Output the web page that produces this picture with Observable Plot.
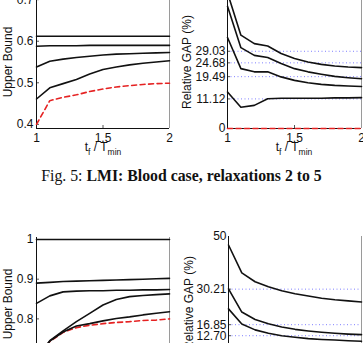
<!DOCTYPE html>
<html><head><meta charset="utf-8">
<script src="https://cdn.jsdelivr.net/npm/d3@7"></script>
<script src="https://cdn.jsdelivr.net/npm/@observablehq/plot@0.6"></script>
<style>
html,body{margin:0;padding:0;background:#fff;}
#root{position:relative;width:363px;height:343px;overflow:hidden;background:#fff;font-family:"Liberation Sans",Arial,sans-serif;}
.panel{position:absolute;}
.panel svg{background:transparent;}
.xlab{position:absolute;width:140px;text-align:center;font-size:12px;line-height:12px;color:#111;white-space:nowrap;}
.xlab sub{font-size:8.5px;vertical-align:-4px;line-height:0;}
.cap{position:absolute;left:0;width:363px;top:168px;text-align:center;font-family:"Liberation Serif","Times New Roman",serif;font-size:15.8px;line-height:16px;color:#111;white-space:nowrap;}
</style></head><body><div id="root"></div>
<script>
// ---- data ----
const tRatio = [1, 1.1, 1.2, 1.3, 1.4, 1.5, 1.6, 1.7, 1.8, 1.9, 2];
const xTicks = [1, 1.5, 2];
const xTickLabels = ["1", "1.5", "2"];

// Fig.5 left: Upper Bound (relaxations 2..5 + red reference)
const ubA_r5 = [0.612, 0.612, 0.612, 0.612, 0.612, 0.612, 0.612, 0.612, 0.612, 0.612, 0.612];
const ubA_r4 = [0.588, 0.589, 0.589, 0.589, 0.590, 0.590, 0.590, 0.590, 0.590, 0.590, 0.590];
const ubA_r3 = [0.538, 0.552, 0.557, 0.561, 0.564, 0.567, 0.569, 0.570, 0.571, 0.572, 0.573];
const ubA_r2 = [0.461, 0.488, 0.498, 0.508, 0.521, 0.532, 0.538, 0.543, 0.547, 0.550, 0.553];
const ubA_ref = [0.400, 0.457, 0.465, 0.471, 0.479, 0.485, 0.490, 0.493, 0.496, 0.498, 0.499];
const ubA_ticks = [0.4, 0.5, 0.6, 0.7];
const ubA_tickLabels = ["0.4", "0.5", "0.6", "0.7"];

// Fig.5 right: Relative GAP (%)
const gapA_r2 = [51.0, 35.1, 31.9, 31.0, 28.2, 26.3, 25.0, 24.1, 23.5, 23.1, 22.9];
const gapA_r3 = [46.0, 30.4, 27.5, 26.7, 24.4, 22.5, 21.3, 20.4, 19.6, 19.1, 18.7];
const gapA_r4 = [34.2, 22.5, 21.3, 21.3, 19.4, 18.1, 17.2, 16.6, 16.2, 16.0, 15.8];
const gapA_r5 = [13.7, 8.0, 8.7, 11.2, 11.4, 11.4, 11.4, 11.4, 11.5, 11.5, 11.6];
const gapA_ref = [0, 0, 0, 0, 0, 0, 0, 0, 0, 0, 0];
const gapA_ticks = [0, 11.12, 19.49, 24.68, 29.03];
const gapA_tickLabels = ["0", "11.12", "19.49", "24.68", "29.03"];
const gapA_grid = [11.12, 19.49, 24.68, 29.03];

// Fig.6 left: Upper Bound
const ubB_r5 = [1, 1, 1, 1, 1, 1, 1, 1, 1, 1, 1];
const ubB_r4 = [0.890, 0.892, 0.894, 0.895, 0.896, 0.897, 0.898, 0.899, 0.900, 0.901, 0.902];
const ubB_r3 = [0.839, 0.858, 0.868, 0.870, 0.871, 0.871, 0.872, 0.872, 0.873, 0.873, 0.874];
const ubB_r2 = [0.700, 0.745, 0.770, 0.793, 0.814, 0.835, 0.849, 0.856, 0.859, 0.861, 0.863];
const ubB_r1 = [0.700, 0.744, 0.767, 0.782, 0.788, 0.795, 0.801, 0.805, 0.810, 0.814, 0.818];
const ubB_ref = [0.700, 0.743, 0.766, 0.778, 0.784, 0.788, 0.791, 0.793, 0.796, 0.797, 0.800];
const ubB_ticks = [0.8, 0.9, 1];
const ubB_tickLabels = ["0.8", "0.9", "1"];

// Fig.6 right: Relative GAP (%)
const gapB_r2 = [46.8, 36.3, 33.0, 31.1, 29.6, 28.5, 27.6, 26.8, 26.2, 25.8, 25.4];
const gapB_r3 = [30.3, 21.6, 18.8, 17.2, 16.0, 15.1, 14.5, 14.0, 13.6, 13.3, 13.1];
const gapB_r4 = [22.8, 17.1, 14.9, 13.6, 12.7, 12.1, 11.6, 11.3, 11.1, 10.8, 10.6];
const gapB_ticks = [12.70, 16.85, 30.21, 50];
const gapB_tickLabels = ["12.70", "16.85", "30.21", "50"];
const gapB_grid = [12.70, 16.85, 30.21];

const captionLead = "Fig. 5: ";
const captionBold = "LMI: Blood case, relaxations 2 to 5";
const labelUB = "Upper Bound";
const labelGap = "Relative GAP (%)";

// ---- drawing ----
const root = document.getElementById("root");
const INK = "#111";

function panel(o) {
  const marginTop = 10, marginBottom = 24;
  const frameW = o.width - o.marginLeft - o.marginRight;
  const rows = [];
  o.series.forEach((vals, i) => vals.forEach((v, j) => rows.push({x: tRatio[j], y: v, s: i})));
  const redRows = o.red ? o.red.map((v, j) => ({x: tRatio[j], y: v})) : [];
  const svg = Plot.plot({
    width: o.width,
    height: marginTop + o.frameH + marginBottom,
    marginLeft: o.marginLeft, marginRight: o.marginRight, marginTop, marginBottom,
    style: {fontFamily: "'Liberation Sans', Arial, sans-serif", fontSize: "12px", color: INK, background: "transparent", overflow: "visible"},
    x: {domain: [1, 2]},
    y: {domain: o.yDomain},
    marks: [
      Plot.ruleY(o.grid || [], {stroke: "#7f7fff", strokeDasharray: "1,2.5", strokeWidth: 1}),
      Plot.axisY({ticks: o.yTicks, tickFormat: d => o.yTickLabels[o.yTicks.indexOf(d)], tickSize: 0, tickPadding: o.yPad, label: null, fontSize: 12}),
      o.showX ? Plot.axisX({ticks: xTicks, tickFormat: d => xTickLabels[xTicks.indexOf(d)], tickSize: 0, tickPadding: 5, label: null, fontSize: 12}) : null,
      Plot.tickX(xTicks, {x: d => d, insetTop: o.frameH - 3, stroke: "#555"}),
      Plot.tickY(o.yTicks.filter(d => d > o.yDomain[0] && d < o.yDomain[1]), {y: d => d, insetRight: frameW - 3, stroke: "#555"}),
      Plot.ruleX([2], {stroke: "#9a9a9a", strokeWidth: 1}),
      Plot.ruleX([1], {stroke: INK, strokeWidth: 1}),
      Plot.ruleY([o.yDomain[0]], {stroke: INK, strokeWidth: 1}),
      Plot.line(redRows, {x: "x", y: "y", stroke: "#e52222", strokeWidth: 1.6, strokeDasharray: "5,3.5"}),
      Plot.line(rows, {x: "x", y: "y", z: "s", stroke: INK, strokeWidth: 1.6, strokeLinejoin: "round"}),
      Plot.text([o.ylabel], {frameAnchor: "left", textAnchor: "middle", lineAnchor: "middle", rotate: -90, dx: o.labelDx, text: d => d, fontSize: 12, fill: INK})
    ]
  });
  const div = document.createElement("div");
  div.className = "panel";
  div.style.left = o.left + "px";
  div.style.top = (o.frameTop - marginTop) + "px";
  div.appendChild(svg);
  root.appendChild(div);
}

panel({left: 0, frameTop: -5, frameH: 133, width: 175, marginLeft: 36, marginRight: 6,
  yDomain: [0.39, 0.71], yTicks: ubA_ticks, yTickLabels: ubA_tickLabels, yPad: 3,
  series: [ubA_r5, ubA_r4, ubA_r3, ubA_r2], red: ubA_ref, ylabel: labelUB, labelDx: -28, showX: true});

panel({left: 180, frameTop: -5, frameH: 133, width: 183, marginLeft: 47, marginRight: 2,
  yDomain: [0, 50], yTicks: gapA_ticks, yTickLabels: gapA_tickLabels, yPad: 2, grid: gapA_grid,
  series: [gapA_r2, gapA_r3, gapA_r4, gapA_r5], red: gapA_ref, ylabel: labelGap, labelDx: -40, showX: true});

panel({left: 0, frameTop: 237, frameH: 133, width: 175, marginLeft: 36, marginRight: 6,
  yDomain: [0.67, 1.005], yTicks: ubB_ticks, yTickLabels: ubB_tickLabels, yPad: 3,
  series: [ubB_r5, ubB_r4, ubB_r3, ubB_r2, ubB_r1], red: ubB_ref, ylabel: labelUB, labelDx: -28.5, showX: false});

panel({left: 180, frameTop: 236, frameH: 133, width: 183, marginLeft: 48, marginRight: 2,
  yDomain: [0, 50], yTicks: gapB_ticks, yTickLabels: gapB_tickLabels, yPad: 2, grid: gapB_grid,
  series: [gapB_r2, gapB_r3, gapB_r4], red: null, ylabel: labelGap, labelDx: -39, showX: false});

function xlabel(cx) {
  const d = document.createElement("div");
  d.className = "xlab";
  d.style.left = (cx - 70) + "px";
  d.style.top = "141px";
  d.innerHTML = "t<sub>f</sub> / T<sub>min</sub>";
  root.appendChild(d);
}
xlabel(103);
xlabel(294);

const cap = document.createElement("div");
cap.className = "cap";
const lead = document.createElement("span");
lead.textContent = captionLead;
const bold = document.createElement("b");
bold.textContent = captionBold;
cap.appendChild(lead);
cap.appendChild(bold);
root.appendChild(cap);
</script>
</body></html>
